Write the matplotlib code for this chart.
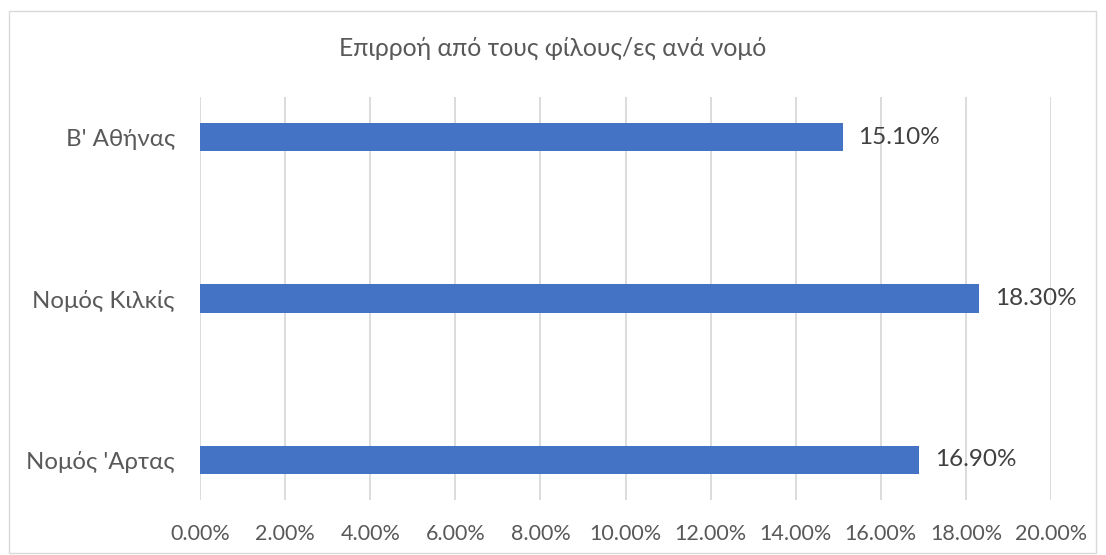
import matplotlib
matplotlib.use("Agg")
import matplotlib.pyplot as plt
from matplotlib.patches import Rectangle

plt.rcParams['font.family'] = ['Lato', 'DejaVu Sans']

title = "Επιρροή από τους φίλους/ες ανά νομό"
categories = ["Β' Αθήνας", "Νομός Κιλκίς", "Νομός 'Αρτας"]
values = [15.10, 18.30, 16.90]
ticks = [0, 2, 4, 6, 8, 10, 12, 14, 16, 18, 20]

W, H = 1106, 555
fig = plt.figure(figsize=(W / 100, H / 100), dpi=100)
fig.patch.set_facecolor('white')
fig.patches.append(Rectangle((9 / W, 1 - 553 / H), (1096 - 9) / W, (553 - 11) / H,
                             transform=fig.transFigure, fill=False,
                             edgecolor='#d9d9d9', linewidth=1))

ax = fig.add_axes([200 / W, 1 - 500 / H, (1051 - 200) / W, (500 - 97) / H])
pos = list(range(len(categories)))
ax.barh(pos, values, height=0.175, color='#4472c4', zorder=3)
ax.set_ylim(2.25, -0.25)
ax.set_xlim(0, 20)
ax.set_xticks(ticks)
ax.set_xticklabels([f"{t:.2f}%" for t in ticks], color='#595959', fontsize=15.5)
ax.set_yticks(pos)
ax.set_yticklabels(categories, color='#595959', fontsize=17.3)
ax.tick_params(axis='both', length=0)
ax.tick_params(axis='x', pad=17)
ax.tick_params(axis='y', pad=18)
ax.grid(axis='x', color='#d9d9d9', linewidth=1.3, zorder=0)
for s in ax.spines.values():
    s.set_visible(False)

for p, v in zip(pos, values):
    ax.annotate(f"{v:.2f}%", (v, p), xytext=(11.5, 0), textcoords='offset points',
                va='center', ha='left', fontsize=17.5, color='#404040')

fig.text((9 + 1096) / 2 / W, 1 - 48 / H, title, ha='center', va='center',
         fontsize=17.8, color='#595959')

fig.savefig('out.png', dpi=100)
